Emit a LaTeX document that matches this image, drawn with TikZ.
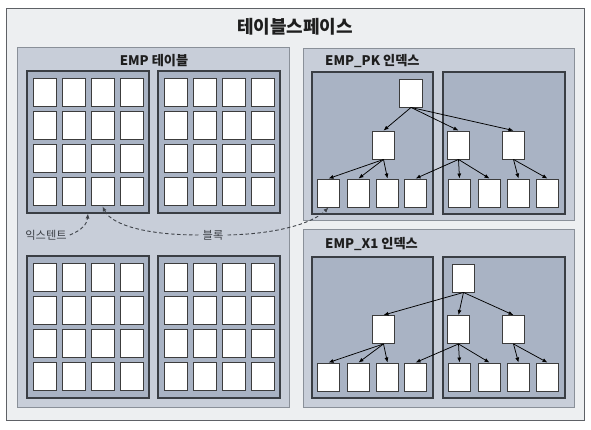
\documentclass[tikz,border=0pt]{standalone}
\usepackage{fontspec}
\setmainfont{Noto Sans CJK KR}
\usetikzlibrary{arrows.meta}
\definecolor{outerfill}{HTML}{EDEFF1}
\definecolor{outerline}{HTML}{5E6166}
\definecolor{segfill}{HTML}{C8CED9}
\definecolor{segline}{HTML}{8A9099}
\definecolor{extfill}{HTML}{A9B3C4}
\definecolor{extline}{HTML}{3A3E44}
\definecolor{blkline}{HTML}{3C3C3C}
\definecolor{txt}{HTML}{1E1E1E}
\definecolor{softtxt}{HTML}{3E4248}
\tikzset{
  outerbox/.style={draw=outerline, fill=outerfill, line width=1pt},
  segbox/.style={draw=segline, fill=segfill, line width=1pt},
  extbox/.style={draw=extline, fill=extfill, line width=1.1pt},
  blockbox/.style={draw=blkline, fill=white, line width=0.9pt, minimum width=23pt, minimum height=28pt, inner sep=0pt},
  treebox/.style={draw=blkline, fill=white, line width=0.9pt, minimum width=22.5pt, minimum height=28pt, inner sep=0pt},
  ptr/.style={-{Latex[length=5pt,width=4pt]}, line width=0.75pt, black},
  dashptr/.style={-{Latex[length=5pt,width=4pt]}, line width=0.9pt, softtxt, dash pattern=on 3.5pt off 2.5pt},
  title/.style={font=\fontsize{18}{20}\selectfont\bfseries, text=txt, inner sep=0pt},
  seglabel/.style={font=\fontsize{13.2}{15}\selectfont\bfseries, text=txt, inner sep=0pt},
  note/.style={font=\fontsize{11.2}{13}\selectfont, text=softtxt, inner sep=0pt}
}
\begin{document}
\begin{tikzpicture}[x=1pt,y=-1pt]
\useasboundingbox (0,0) rectangle (591,429);
% tablespace
\draw[outerbox] (6,8) rectangle (584,420);
\node[title] (tstitle) at (295,27) {테이블스페이스};
% EMP table segment
\draw[segbox] (17,47) rectangle (289,407);
\node[seglabel] (emplabel) at (154,61) {EMP 테이블};
% extents of table
\foreach \ex/\x/\y in {1/27/71, 2/158/71, 3/27/256, 4/158/256}{
  \draw[extbox] (\x,\y) rectangle ++(122,142);
  \coordinate (ext\ex) at (\x,\y);
}
% blocks
\foreach \ex/\x/\y in {1/27/71, 2/158/71, 3/27/256, 4/158/256}{
  \foreach \r in {1,...,4}{
    \foreach \c in {1,...,4}{
      \node[blockbox] (b-\ex-\r-\c) at ({\x+17.5+(\c-1)*29}, {\y+21+(\r-1)*33.3}) {};
    }
  }
}
% EMP_PK index
\draw[segbox] (303,48) rectangle (574,220);
\node[seglabel, anchor=west] (pklabel) at (325,61) {EMP\_PK 인덱스};
\draw[extbox] (312,72) rectangle (433,214);
\draw[extbox] (443,72) rectangle (565,214);
% EMP_X1 index
\draw[segbox] (303,229) rectangle (574,407);
\node[seglabel, anchor=west] (x1label) at (325,244) {EMP\_X1 인덱스};
\draw[extbox] (312,257) rectangle (433,398);
\draw[extbox] (443,257) rectangle (565,398);
% PK tree
\node[treebox] (pkroot) at (411,93) {};
\node[treebox] (pkb1) at (383.5,145) {};
\node[treebox] (pkb2) at (458.5,145) {};
\node[treebox] (pkb3) at (513.5,145) {};
\foreach \i/\x in {1/328.5, 2/358.5, 3/387.5, 4/415.5, 5/459.5, 6/489.5, 7/518.5, 8/547.5}{
  \node[treebox] (pkl\i) at (\x,193) {};
}
\foreach \c in {pkb1,pkb2,pkb3} \draw[ptr] (pkroot.south) -- (\c.north);
\foreach \l in {1,2,3} \draw[ptr] (pkb1.south) -- (pkl\l.north);
\foreach \l in {4,5,6} \draw[ptr] (pkb2.south) -- (pkl\l.north);
\foreach \l in {7,8} \draw[ptr] (pkb3.south) -- (pkl\l.north);
% X1 tree
\node[treebox] (xroot) at (463.5,278) {};
\node[treebox] (xb1) at (383.5,329.5) {};
\node[treebox] (xb2) at (458.5,329.5) {};
\node[treebox] (xb3) at (513.5,329.5) {};
\foreach \i/\x in {1/328.5, 2/358.5, 3/387.5, 4/415.5, 5/459.5, 6/489.5, 7/518.5, 8/547.5}{
  \node[treebox] (xl\i) at (\x,377) {};
}
\foreach \c in {xb1,xb2,xb3} \draw[ptr] (xroot.south) -- (\c.north);
\foreach \l in {1,2,3} \draw[ptr] (xb1.south) -- (xl\l.north);
\foreach \l in {4,5,6} \draw[ptr] (xb2.south) -- (xl\l.north);
\foreach \l in {7,8} \draw[ptr] (xb3.south) -- (xl\l.north);
% annotations
\node[note] (extnote) at (46,235) {익스텐트};
\node[note] (blknote) at (213,235) {블록};
\coordinate (extbottom) at (88,213.5);
\draw[dashptr] ([xshift=3pt]extnote.east) .. controls (82,230) and (87,224) .. (extbottom);
\draw[dashptr] ([xshift=-4pt]blknote.west) .. controls (150,235) and (112,226) .. (b-1-4-3.south);
\draw[dashptr] ([xshift=4pt]blknote.east) .. controls (275,234) and (312,224) .. (pkl1.south);
\end{tikzpicture}
\end{document}
